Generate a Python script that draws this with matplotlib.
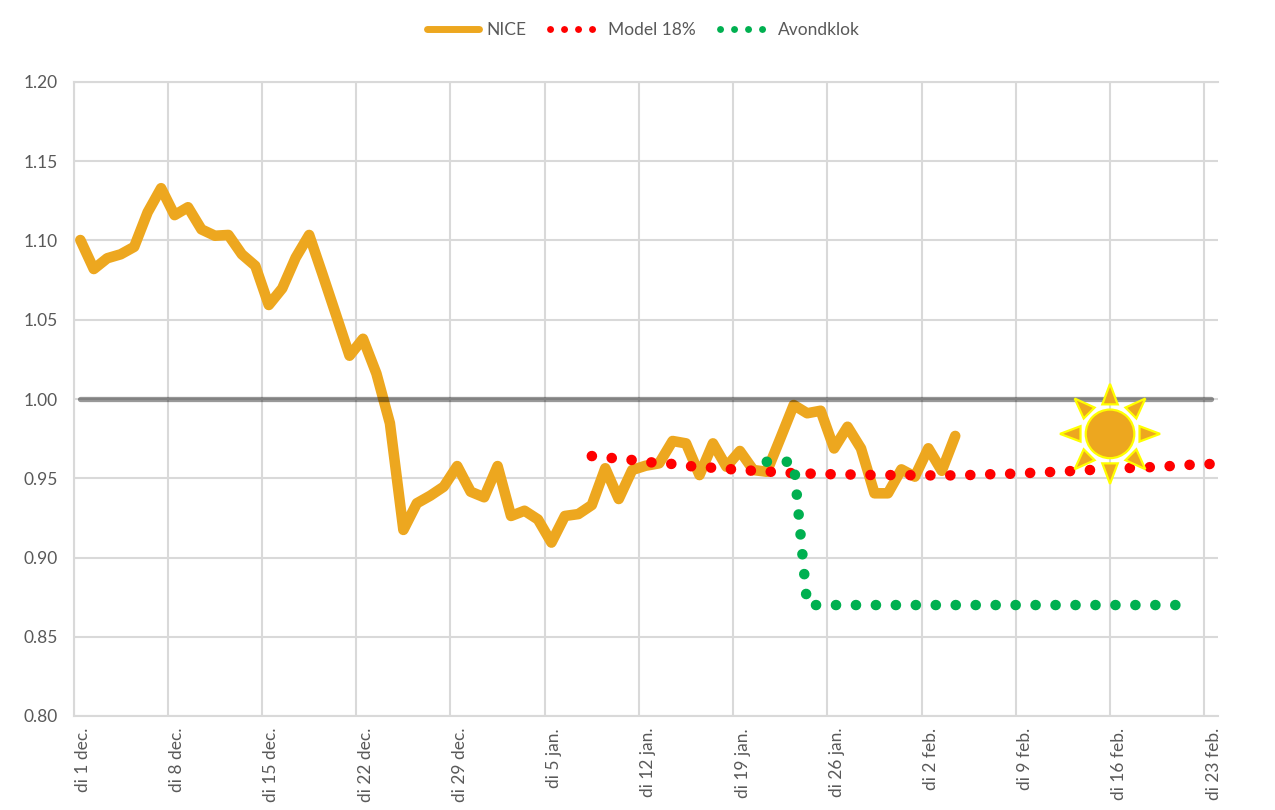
import numpy as np
import matplotlib
matplotlib.use("Agg")
import matplotlib.pyplot as plt
from matplotlib.lines import Line2D
from matplotlib.patches import Circle, Polygon
from matplotlib.transforms import Affine2D

plt.rcParams['font.family'] = ['Lato', 'DejaVu Sans']

nice = [1.1003, 1.082, 1.0888, 1.0913, 1.096, 1.1178, 1.133, 1.116, 1.121, 1.107,
        1.103, 1.1035, 1.0913, 1.084, 1.0593, 1.0698, 1.0892, 1.1035, 1.0785, 1.053,
        1.0273, 1.038, 1.016, 0.9847, 0.9174, 0.9342, 0.939, 0.9447, 0.9577, 0.9415,
        0.938, 0.9577, 0.9262, 0.9295, 0.924, 0.9094, 0.9262, 0.9274, 0.9331, 0.9563,
        0.9369, 0.9552, 0.9579, 0.9594, 0.9735, 0.972, 0.952, 0.972, 0.9573, 0.9672,
        0.9552, 0.9541, 0.975, 0.9962, 0.991, 0.9926, 0.9688, 0.9825, 0.9688, 0.9405,
        0.9405, 0.9556, 0.951, 0.9689, 0.9547, 0.9767]
model_start = 38
model = [0.9640, 0.9632, 0.9623, 0.9615, 0.9604, 0.9595, 0.9590, 0.9578, 0.9572, 0.9566,
         0.9559, 0.9553, 0.9547, 0.9543, 0.9536, 0.9532, 0.9530, 0.9527, 0.9525, 0.9524,
         0.9522, 0.9520, 0.9520, 0.9520, 0.9519, 0.9518, 0.9518, 0.9518, 0.9520, 0.9524,
         0.9526, 0.9528, 0.9532, 0.9535, 0.9539, 0.9543, 0.9547, 0.9552, 0.9556, 0.9560,
         0.9565, 0.9568, 0.9572, 0.9577, 0.9583, 0.9587, 0.9590]
avond_start = 51
avond = [0.9604, 0.9604, 0.9604] + [0.87] * 29
baseline = [1.0] * 85
week_labels = ['di 1 dec.', 'di 8 dec.', 'di 15 dec.', 'di 22 dec.', 'di 29 dec.', 'di 5 jan.',
               'di 12 jan.', 'di 19 jan.', 'di 26 jan.', 'di 2 feb.', 'di 9 feb.', 'di 16 feb.',
               'di 23 feb.']
y_ticks = [0.80, 0.85, 0.90, 0.95, 1.00, 1.05, 1.10, 1.15, 1.20]

ORANGE = '#EDA71F'
RED = '#FF0000'
GREEN = '#00B050'
GRID = '#D9D9D9'
TEXT = '#595959'
W, H = 1275, 810

fig = plt.figure(figsize=(W / 100, H / 100), dpi=100)
ax = fig.add_axes([73.6 / W, (H - 716) / H, (1217.7 - 73.6) / W, (716 - 82) / H])
ax.set_xlim(0, 85)
ax.set_ylim(0.80, 1.20)

weeks = np.arange(len(week_labels)) * 7
ax.set_xticks(weeks)
ax.set_xticklabels([''] * len(weeks))
ax.set_xticks(weeks + 0.7, week_labels, minor=True, rotation=90, ha='center', va='top')
ax.set_yticks(y_ticks, [f'{v:.2f}' for v in y_ticks])
ax.tick_params(axis='x', which='both', length=0, pad=8.6, labelsize=12.5, labelcolor=TEXT)
ax.tick_params(axis='y', length=0, pad=11.5, labelsize=12.5, labelcolor=TEXT)
ax.grid(True, which='major', color=GRID, linewidth=1.5)
ax.set_axisbelow(True)
for side, sp in ax.spines.items():
    sp.set_visible(side != 'right')
    sp.set_color(GRID)
    sp.set_linewidth(1.5)

days = lambda start, vals: np.arange(start, start + len(vals)) + 0.5

ax.plot(days(0, nice), nice, color=ORANGE, lw=7.6, solid_capstyle='round',
        solid_joinstyle='round', zorder=3)
ax.plot(days(0, baseline), baseline, color='black', alpha=0.4, lw=3.8,
        solid_capstyle='round', zorder=4)
dot_style = dict(lw=7.6, linestyle=(0, (0.01, 1.881)), dash_capstyle='round')
ax.plot(days(model_start, model), model, color=RED, zorder=5, **dot_style)
ax.plot(days(avond_start, avond), avond, color=GREEN, zorder=6, **dot_style)

# sun decoration, anchored on the data position and sized in pixels
sun_at = Affine2D().translate(*ax.transData.transform((77, 0.978)))
edge = dict(facecolor=ORANGE, edgecolor='#FFFF00', linewidth=1.6, zorder=8, clip_on=False)
for k in range(8):
    a = np.pi / 4 * k
    u, v = np.array([np.cos(a), np.sin(a)]), np.array([-np.sin(a), np.cos(a)])
    tri = [u * 50, u * 29.5 + v * 7.7, u * 29.5 - v * 7.7]
    ax.add_patch(Polygon(tri, closed=True, transform=sun_at, joinstyle='miter', **edge))
ax.add_patch(Circle((0, 0), 24.3, transform=sun_at, **edge))

leg_dash = lambda: (1.87, (0.01, 2.006))
handles = [
    Line2D([], [], color=ORANGE, lw=5, solid_capstyle='round'),
    Line2D([], [], color=RED, lw=5, linestyle=leg_dash(), dash_capstyle='round'),
    Line2D([], [], color=GREEN, lw=5, linestyle=leg_dash(), dash_capstyle='round'),
]
fig.legend(handles, ['NICE', 'Model 18%', 'Avondklok'], ncol=3, loc='center',
           bbox_to_anchor=(643.5 / W, (H - 30) / H), frameon=False, fontsize=12.5,
           labelcolor=TEXT, handlelength=3.0, handletextpad=0.4, columnspacing=1.33,
           borderpad=0, borderaxespad=0)

fig.savefig('out.png', dpi=100, facecolor='white')
